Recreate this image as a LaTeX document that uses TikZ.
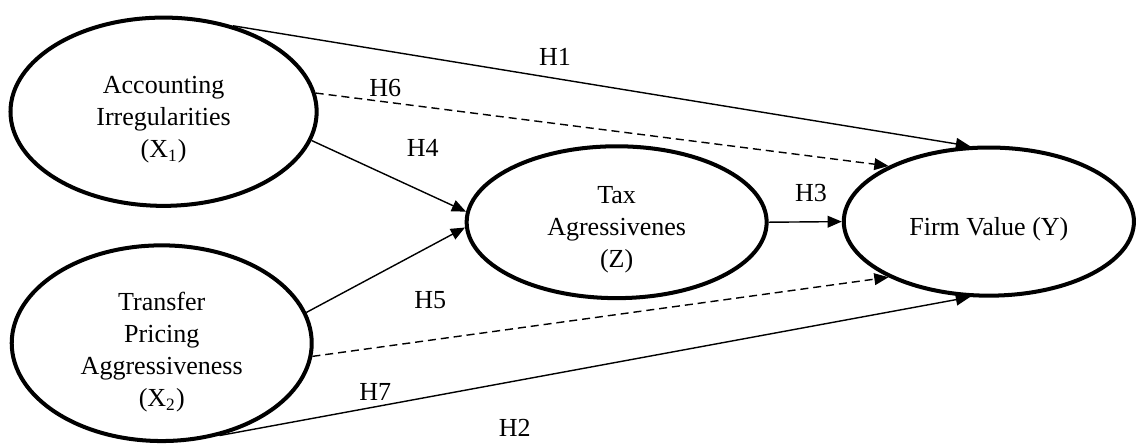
\documentclass[tikz,border=0pt]{standalone}
\usepackage{fontspec}
\setmainfont{Liberation Serif}
\usepackage{tikz}
\usetikzlibrary{arrows, arrows.meta, shapes.geometric}
\newcommand{\txtdrop}[1]{\rule{0pt}{#1}}

\begin{document}
\begin{tikzpicture}[
	var/.style={draw, ellipse, line width=1.85pt, inner sep=0pt, align=center, font=\fontsize{12}{14.8}\selectfont},
	path/.style={line width=0.65pt, -{Triangle[length=0.23cm, width=0.19cm]}},
	dashpath/.style={path, dash pattern=on 0.13cm off 0.08cm},
	hyp/.style={font=\fontsize{12}{14.8}\selectfont}]
	\useasboundingbox (0,0) rectangle (18.42,-7.19);
	\node[var, minimum width=4.96cm, minimum height=3.05cm] (X1) at (2.65,-1.81) {\txtdrop{15pt}Accounting\\Irregularities\\(X\textsubscript{1})};		%left upper
	\node[var, minimum width=4.86cm, minimum height=3.17cm] (X2) at (2.62,-5.56) {\txtdrop{16.6pt}Transfer\\Pricing\\Aggressiveness\\(X\textsubscript{2})};	%left lower
	\node[var, minimum width=4.86cm, minimum height=2.46cm] (Z) at (9.99,-3.6) {\txtdrop{15pt}Tax\\Agressivenes\\(Z)};				%middle
	\node[var, minimum width=4.70cm, minimum height=2.40cm] (Y) at (16.02,-3.59) {\txtdrop{15pt}Firm Value (Y)};					%right

	\draw[path] (X1.51) -- (Y.104);			%H1
	\draw[dashpath] (X1.7) -- (Y.151);		%H6
	\draw[path] (X1.-11) -- (Z.176);		%H4
	\draw[path] (X2.12) -- (Z.182);			%X2 to Z
	\draw[path] (Z.east) -- (Y.west);		%H3
	\draw[dashpath] (X2.-5) -- (Y.209);		%H5
	\draw[path] (X2.-58) -- (Y.256);		%H2

	\node[hyp] (h1) at (8.99,-0.92) {H1};
	\node[hyp] (h6) at (6.24,-1.43) {H6};
	\node[hyp] (h4) at (6.85,-2.40) {H4};
	\node[hyp] (h3) at (13.14,-3.13) {H3};
	\node[hyp] (h5) at (6.97,-4.86) {H5};
	\node[hyp] (h7) at (6.08,-6.35) {H7};
	\node[hyp] (h2) at (8.34,-6.93) {H2};
\end{tikzpicture}
\end{document}
